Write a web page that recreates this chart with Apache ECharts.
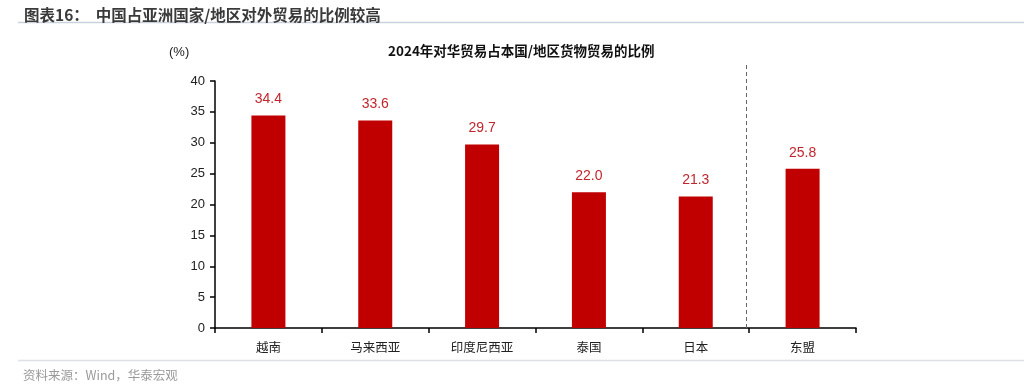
<!DOCTYPE html>
<html><head><meta charset="utf-8">
<script src="https://cdn.jsdelivr.net/npm/echarts@6/dist/echarts.min.js"></script>
<style>html,body{margin:0;padding:0;background:#fff}#c{width:1024px;height:384px}</style>
</head><body><div id="c"></div>
<script>
const categories = ['越南','马来西亚','印度尼西亚','泰国','日本','东盟'];
const values = [34.4, 33.6, 29.7, 22.0, 21.3, 25.8];
const yTicks = [0,5,10,15,20,25,30,35,40];
const dividerAt = [5];

const chart = echarts.init(document.getElementById('c'));
const FONT = '"Liberation Sans", Arial, "Noto Sans CJK SC", sans-serif';
const CJK = '"Noto Sans CJK SC", sans-serif';
chart.setOption({
  animation: false,
  backgroundColor: '#fff',
  title: [
    {text: '图表16：  中国占亚洲国家/地区对外贸易的比例较高', left: 19, top: 2,
     textStyle: {fontSize: 15.5, fontWeight: 'bold', color: '#3a3a3a', fontFamily: CJK}},
    {text: '2024年对华贸易占本国/地区货物贸易的比例', left: 383, top: 39,
     textStyle: {fontSize: 13.5, fontWeight: 'bold', color: '#111', fontFamily: CJK}},
    {text: '(%)', left: 164, top: 41, textStyle: {fontSize: 13, fontWeight: 'normal', color: '#222', fontFamily: FONT}},
    {text: '资料来源：Wind，华泰宏观', left: 18, top: 364,
     textStyle: {fontSize: 12.5, fontWeight: 'normal', color: '#9a9a9a', fontFamily: CJK}}
  ],
  graphic: [
    {type: 'line', shape: {x1: 18, y1: 22.5, x2: 1024, y2: 22.5}, style: {stroke: '#c9d1dc', lineWidth: 1.5}},
    {type: 'line', shape: {x1: 18, y1: 360.5, x2: 1024, y2: 360.5}, style: {stroke: '#dde0e4', lineWidth: 1.5}}
  ],
  grid: [
    {left: 215, right: 168, top: 81, bottom: 56},
    {left: 215, right: 168, top: 65, bottom: 56}
  ],
  xAxis: [
    {type: 'category', data: categories, gridIndex: 0,
     axisLine: {lineStyle: {color: '#000', width: 1.5}},
     axisTick: {show: true, inside: false, length: 5, alignWithLabel: false, lineStyle: {color: '#000', width: 1.5}},
     axisLabel: {fontSize: 12.5, color: '#222', margin: 13, fontFamily: CJK}},
    {type: 'value', gridIndex: 1, min: 0, max: categories.length, show: false}
  ],
  yAxis: [
    {type: 'value', gridIndex: 0, min: yTicks[0], max: yTicks[yTicks.length-1], interval: 5,
     axisLine: {show: true, lineStyle: {color: '#000', width: 1.5}},
     axisTick: {show: true, length: 5, lineStyle: {color: '#000', width: 1.5}},
     splitLine: {show: false},
     axisLabel: {fontSize: 13, color: '#222', margin: 10, fontFamily: FONT}},
    {type: 'value', gridIndex: 1, min: 0, max: 1, show: false}
  ],
  series: [
    {type: 'bar', data: values, xAxisIndex: 0, yAxisIndex: 0, barWidth: 34,
     itemStyle: {color: '#c00000'},
     label: {show: true, position: 'top', distance: 9, color: '#c0262d', fontSize: 14, fontFamily: FONT,
             formatter: p => p.value.toFixed(1)}},
    {type: 'line', data: [], xAxisIndex: 1, yAxisIndex: 1,
     markLine: {silent: true, symbol: 'none', label: {show: false},
       lineStyle: {color: '#666', type: [4, 3], width: 1},
       data: dividerAt.map(v => ({xAxis: v - 0.03}))}}
  ]
});
</script></body></html>
